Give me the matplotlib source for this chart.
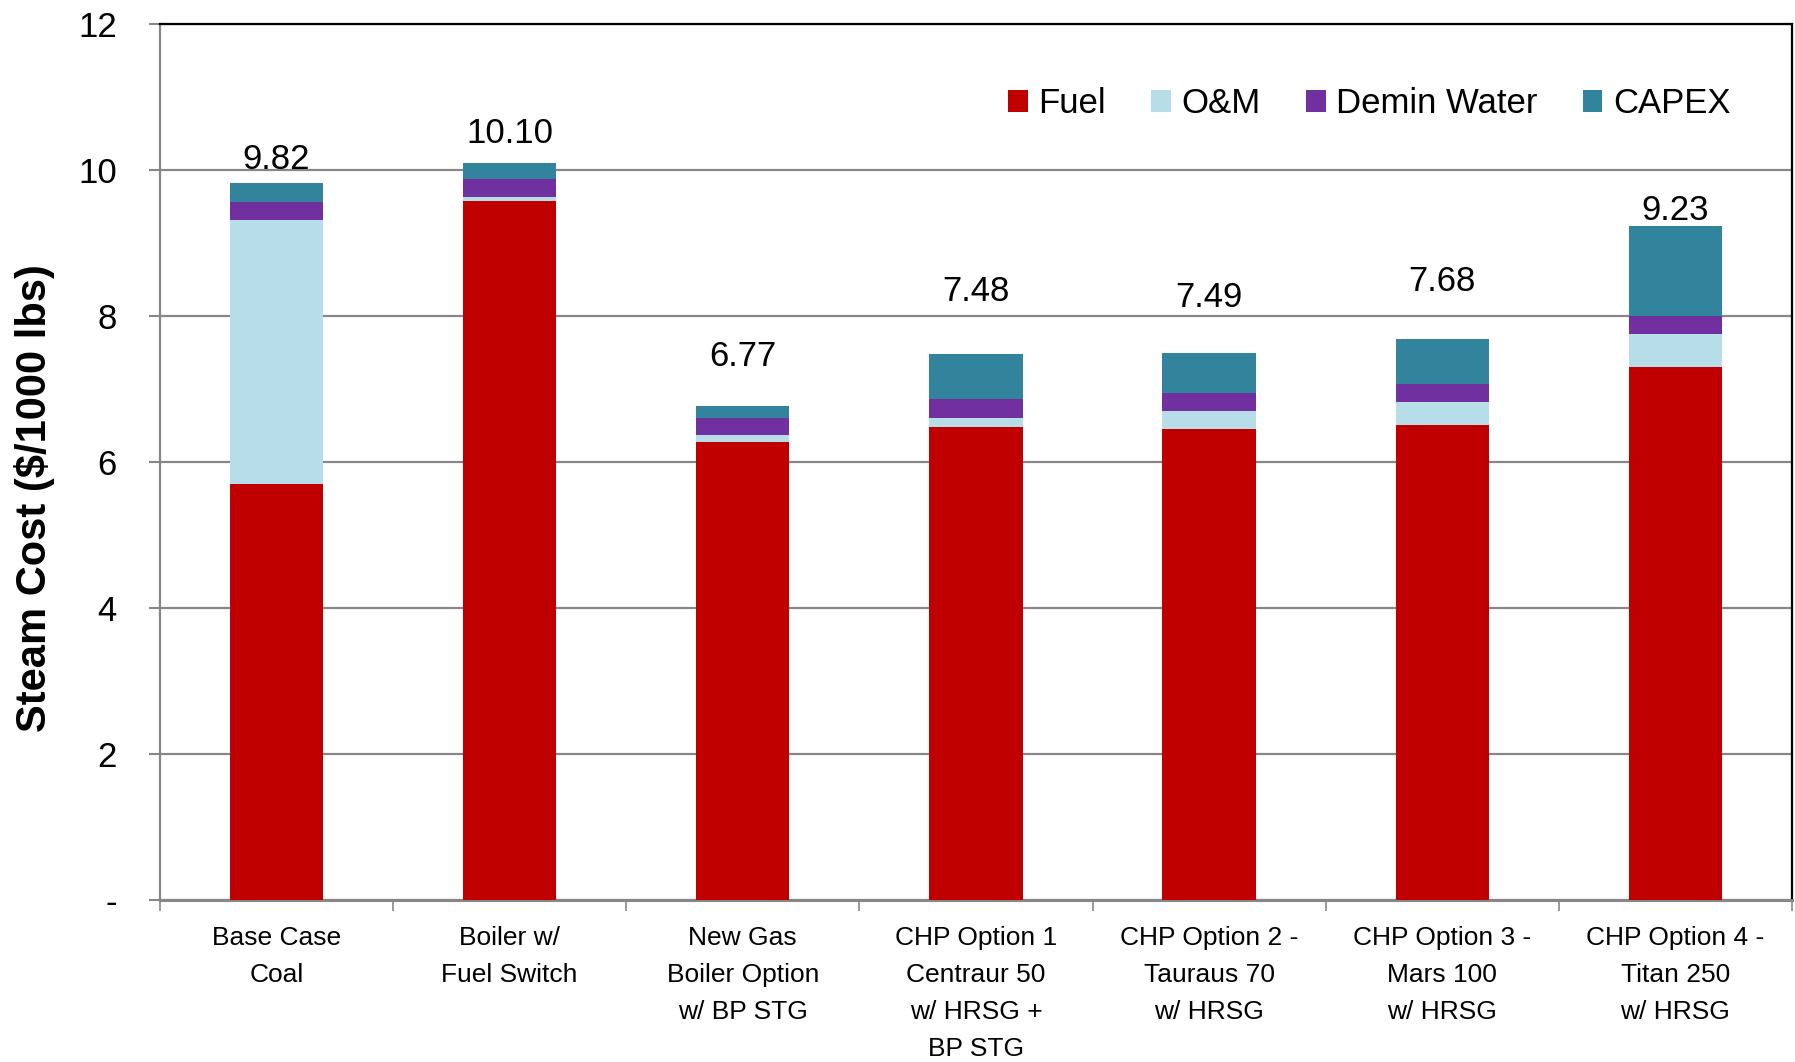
import matplotlib
matplotlib.use('Agg')
import matplotlib.pyplot as plt
from matplotlib import font_manager
from matplotlib.patches import Patch
import numpy as np

# values ($/1000 lbs)
categories = ['Base Case\nCoal', 'Boiler w/\nFuel Switch', 'New Gas\nBoiler Option\nw/ BP STG',
              'CHP Option 1\nCentraur 50\nw/ HRSG +\nBP STG', 'CHP Option 2 -\nTauraus 70\nw/ HRSG',
              'CHP Option 3 -\nMars 100\nw/ HRSG', 'CHP Option 4 -\nTitan 250\nw/ HRSG']
fuel = [5.70, 9.57, 6.27, 6.48, 6.45, 6.51, 7.30]
om = [3.62, 0.06, 0.10, 0.12, 0.25, 0.31, 0.45]
demin = [0.24, 0.25, 0.23, 0.26, 0.25, 0.25, 0.25]
capex = [0.26, 0.22, 0.17, 0.62, 0.54, 0.61, 1.23]
totals = ['9.82', '10.10', '6.77', '7.48', '7.49', '7.68', '9.23']

series_names = ['Fuel', 'O&M', 'Demin Water', 'CAPEX']
colors = ['#C00000', '#B7DEE8', '#7030A0', '#31849B']

# how far above each bar its total label sits (data units)
label_gap = [0.20, 0.27, 0.55, 0.73, 0.64, 0.66, 0.08]

installed = {f.name for f in font_manager.fontManager.ttflist}
base_font = 'Liberation Sans' if 'Liberation Sans' in installed else 'DejaVu Sans'
if 'Liberation Sans Narrow' in installed:
    narrow_font, narrow_size = 'Liberation Sans Narrow', 22
elif 'DejaVu Sans Condensed' in installed:
    narrow_font, narrow_size = 'DejaVu Sans Condensed', 19
else:
    narrow_font, narrow_size = base_font, 19
plt.rcParams['font.family'] = [base_font, 'DejaVu Sans']

fig = plt.figure(figsize=(17.95, 10.62), dpi=100)
ax = fig.add_axes([0.0891, 0.1525, 0.9092, 0.8249])

x = np.arange(len(categories))
bottom = np.zeros(len(categories))
for vals, name, col in zip([fuel, om, demin, capex], series_names, colors):
    ax.bar(x, vals, width=0.4, bottom=bottom, color=col, label=name, zorder=3)
    bottom += np.array(vals)

for i, t in enumerate(totals):
    ax.text(x[i], bottom[i] + label_gap[i], t, ha='center', va='baseline', fontsize=25, zorder=4)

ax.set_xlim(-0.5, len(categories) - 0.5)
ax.set_ylim(0, 12)
ax.set_yticks(range(0, 13, 2))
ax.set_yticklabels(['-'] + [str(v) for v in range(2, 13, 2)], fontsize=25)
ax.yaxis.grid(True, color='#878787', linewidth=1.6, zorder=0)
ax.tick_params(axis='y', length=8, width=1.5, color='#878787', pad=23)

ax.set_xticks(x)
ax.set_xticklabels(categories, fontsize=narrow_size, family=[narrow_font, 'DejaVu Sans'],
                   linespacing=1.68, va='top')
ax.tick_params(axis='x', which='major', length=0, pad=19)
ax.set_xticks(np.arange(-0.5, len(categories)), minor=True)
ax.tick_params(axis='x', which='minor', length=8, width=1.2, color='#878787')

for side in ['left', 'bottom']:
    ax.spines[side].set_color('#878787')
ax.spines['left'].set_linewidth(1.6)
ax.spines['bottom'].set_linewidth(2.2)
ax.spines['top'].set_color('black')
ax.spines['top'].set_linewidth(1.6)
ax.spines['right'].set_color('black')
ax.spines['right'].set_linewidth(1.6)

ax.set_ylabel('Steam Cost ($/1000 lbs)', fontsize=30, fontweight='bold')
ax.yaxis.set_label_coords(-0.064, 0.459)

handles = [Patch(facecolor=c, label=n) for n, c in zip(series_names, colors)]
ax.legend(handles=handles, loc='center', bbox_to_anchor=(0.741, 0.909), ncol=4, frameon=False,
          fontsize=25, handlelength=0.57, handleheight=0.57, handletextpad=0.3, columnspacing=1.3)

fig.savefig('out.png', dpi=100)
